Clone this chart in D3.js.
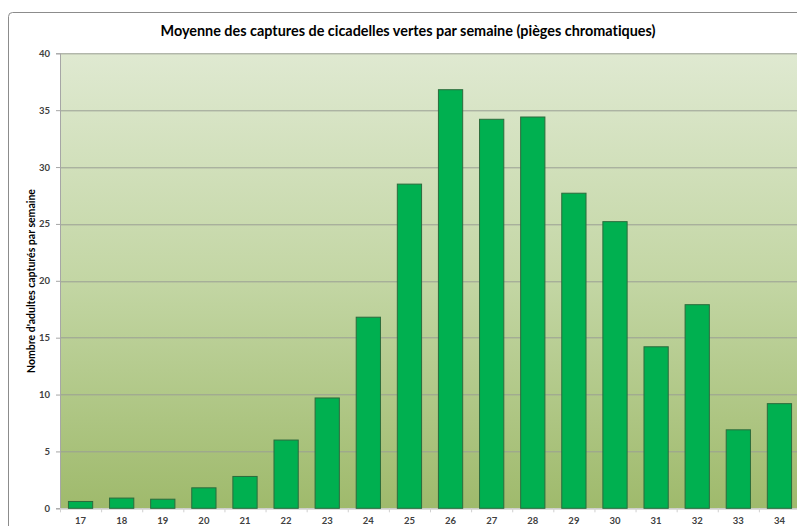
<!DOCTYPE html>
<html>
<head>
<meta charset="utf-8">
<script src="https://cdn.jsdelivr.net/npm/d3@7"></script>
<style>
  body { margin: 0; background: #fff; }
  text { font-family: Lato, "Open Sans", sans-serif; font-variant-ligatures: none; }
</style>
</head>
<body>
<script>
let weeks = ["17", "18", "19", "20", "21", "22", "23", "24", "25", "26", "27", "28", "29", "30", "31", "32", "33", "34"];
let captures = [0.6, 0.9, 0.8, 1.8, 2.8, 6.0, 9.7, 16.8, 28.5, 36.8, 34.2, 34.4, 27.7, 25.2, 14.2, 17.9, 6.9, 9.2];
let yTicks = [0, 5, 10, 15, 20, 25, 30, 35, 40];

let margin = {top: 53.3, left: 60},
    width = 740,
    height = 455;

let svg = d3.select("body").append("svg")
    .attr("width", 797)
    .attr("height", 526);

// chart frame
svg.append("rect")
    .attr("x", 8.5).attr("y", 12.5)
    .attr("width", 820).attr("height", 540)
    .attr("rx", 4)
    .attr("fill", "#fff")
    .attr("stroke", "#8c8c8c");

let defs = svg.append("defs");
let grad = defs.append("linearGradient")
    .attr("id", "bg")
    .attr("x1", 0).attr("y1", 0).attr("x2", 0).attr("y2", 1);
grad.append("stop").attr("offset", "0%").attr("stop-color", "#dfe9d1");
grad.append("stop").attr("offset", "50%").attr("stop-color", "#c3d6a4");
grad.append("stop").attr("offset", "100%").attr("stop-color", "#9fba6c");

let g = svg.append("g")
    .attr("transform", "translate(" + margin.left + "," + margin.top + ")");

let x = d3.scaleBand()
    .domain(weeks)
    .range([0, width]);

let y = d3.scaleLinear()
    .domain([0, 40])
    .range([height, 0]);

g.append("rect")
    .attr("width", width)
    .attr("height", height)
    .attr("fill", "url(#bg)");

// gridlines
g.selectAll("line.grid")
    .data(yTicks)
    .enter().append("line")
    .attr("class", "grid")
    .attr("x1", 0).attr("x2", width)
    .attr("y1", d => Math.round(y(d)) + 0.5)
    .attr("y2", d => Math.round(y(d)) + 0.5)
    .attr("stroke", "#9a9f94")
    .attr("stroke-width", 1);

let yAxis = d3.axisLeft(y)
    .tickValues(yTicks)
    .tickSize(4)
    .tickPadding(6);

let yg = g.append("g").call(yAxis);
yg.select(".domain").attr("stroke", "#a6a6a6");
yg.selectAll(".tick line").attr("stroke", "#a6a6a6");
yg.selectAll(".tick text")
    .attr("fill", "#404040")
    .style("font-size", "9.5px")
    .style("font-weight", "bold");

let xAxis = d3.axisBottom(x)
    .tickSize(0)
    .tickPadding(9);

let xg = g.append("g")
    .attr("transform", "translate(0," + height + ")")
    .call(xAxis);
xg.select(".domain").remove();
xg.selectAll(".tick text")
    .attr("fill", "#404040")
    .style("font-size", "9.5px")
    .style("font-weight", "bold");

// tick marks between categories
g.selectAll("line.xtick")
    .data(weeks)
    .enter().append("line")
    .attr("class", "xtick")
    .attr("x1", d => x(d) + 0.5).attr("x2", d => x(d) + 0.5)
    .attr("y1", height).attr("y2", height + 4)
    .attr("stroke", "#d0d0d0");

g.append("line")
    .attr("x1", 0).attr("x2", width)
    .attr("y1", height + 0.5).attr("y2", height + 0.5)
    .attr("stroke", "#d8d8d8");

let barW = x.bandwidth() * 0.59;

g.selectAll("rect.bar")
    .data(captures)
    .enter().append("rect")
    .attr("class", "bar")
    .attr("x", (d, i) => x(weeks[i]) + (x.bandwidth() - barW) / 2)
    .attr("y", d => y(d))
    .attr("width", barW)
    .attr("height", d => height - y(d))
    .attr("fill", "#00b050")
    .attr("stroke", "#2c6b3c")
    .attr("stroke-width", 1);

// title
svg.append("text")
    .attr("x", 408)
    .attr("y", 36)
    .attr("text-anchor", "middle")
    .attr("fill", "#000")
    .style("font-size", "14.4px")
    .style("font-weight", "bold")
    .text("Moyenne des captures de cicadelles vertes par semaine (pièges chromatiques)");

// y axis title
svg.append("text")
    .attr("transform", "translate(35,281) rotate(-90)")
    .attr("text-anchor", "middle")
    .attr("fill", "#000")
    .style("font-size", "10.5px")
    .style("font-weight", "bold")
    .text("Nombre d'adultes capturés par semaine");
</script>
</body>
</html>
